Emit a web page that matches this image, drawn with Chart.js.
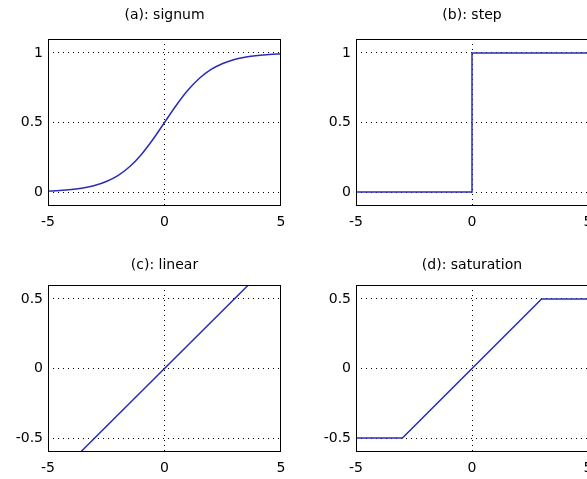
<!DOCTYPE html>
<html>
<head>
<meta charset="utf-8">
<script src="https://cdn.jsdelivr.net/npm/chart.js@4.4.0/dist/chart.umd.min.js"></script>
<style>
html, body { margin:0; padding:0; background:#fff; overflow:hidden; width:587px; height:479px; position:relative; }
canvas { position:absolute; }
#cA { left:0; top:0; }
#cB { left:308px; top:0; }
#cC { left:0; top:246px; }
#cD { left:308px; top:246px; }
</style>
</head>
<body>
<canvas id="cA" width="293" height="240"></canvas>
<canvas id="cB" width="312" height="240"></canvas>
<canvas id="cC" width="293" height="240"></canvas>
<canvas id="cD" width="312" height="240"></canvas>
<script>
// values
var signumX = [-5, -4.5, -4, -3.5, -3, -2.5, -2, -1.5, -1, -0.5, 0, 0.5, 1, 1.5, 2, 2.5, 3, 3.5, 4, 4.5, 5];
var signumY = [0.007, 0.011, 0.018, 0.029, 0.047, 0.076, 0.119, 0.182, 0.269, 0.378, 0.5, 0.622, 0.731, 0.818, 0.881, 0.924, 0.953, 0.971, 0.982, 0.989, 0.993];

var stepX = [-5, 0, 0, 5];
var stepY = [0, 0, 1, 1];

var linearX = [-3.6, 3.6];
var linearY = [-0.6, 0.6];

var satX = [-5, -3, 3, 5];
var satY = [-0.5, -0.5, 0.5, 0.5];

var xTicks = [-5, 0, 5];
var yTicksTop = [0, 0.5, 1];
var yTicksBottom = [-0.5, 0, 0.5];

var lineColor = '#2b2bb5';

Chart.defaults.font.family = 'DejaVu Sans';
Chart.defaults.font.size = 14;
Chart.defaults.color = '#000';

// black box round the plot area
var framePlugin = {
	id: 'frame',
	afterDraw: function(chart) {
		var a = chart.chartArea;
		var ctx = chart.ctx;
		ctx.save();
		ctx.strokeStyle = '#000';
		ctx.lineWidth = 1;
		ctx.strokeRect(a.left + 0.5, a.top + 0.5, a.right - a.left - 1, a.bottom - a.top - 1);
		ctx.restore();
	}
};

// no dotted grid on the box edges (x = -5 and 5)
function xGridColor(ctx) {
	var v = ctx.tick ? ctx.tick.value : 0;
	return (v === -5 || v === 5) ? 'rgba(0,0,0,0)' : '#000';
}

function makePlot(id, title, xs, ys, yMin, yMax, yTicks, rightPad, titlePad, smooth) {
	var pts = [];
	for (var i = 0; i < xs.length; i++) {
		pts.push({x: xs[i], y: ys[i]});
	}
	return new Chart(document.getElementById(id), {
		type: 'scatter',
		data: {
			datasets: [{
				data: pts,
				showLine: true,
				borderColor: lineColor,
				borderWidth: 1.5,
				pointRadius: 0,
				cubicInterpolationMode: smooth ? 'monotone' : 'default'
			}]
		},
		plugins: [framePlugin],
		options: {
			responsive: false,
			animation: false,
			layout: { padding: { right: rightPad, left: 0, top: 0, bottom: 0 } },
			plugins: {
				legend: { display: false },
				tooltip: { enabled: false },
				title: {
					display: true,
					text: title,
					fullSize: false,
					color: '#000',
					font: { size: 14, weight: 'normal' },
					padding: titlePad
				}
			},
			scales: {
				x: {
					type: 'linear',
					min: -5,
					max: 5,
					afterBuildTicks: function(s) { s.ticks = xTicks.map(function(v) { return {value: v}; }); },
					afterFit: function(s) { s.height = 34; s.paddingLeft = 0; s.paddingRight = 0; },
					grid: { color: xGridColor, lineWidth: 1, drawTicks: false },
					border: { display: false, dash: [1, 4] },
					ticks: { padding: 8, maxRotation: 0, callback: function(v) { return String(v); } }
				},
				y: {
					min: yMin,
					max: yMax,
					afterBuildTicks: function(s) { s.ticks = yTicks.map(function(v) { return {value: v}; }); },
					afterFit: function(s) { s.width = 48; s.paddingTop = 0; s.paddingBottom = 0; },
					grid: { color: '#000', lineWidth: 1, drawTicks: false },
					border: { display: false, dash: [1, 4] },
					ticks: { padding: 5, callback: function(v) { return String(v); } }
				}
			}
		}
	});
}

makePlot('cA', '(a): signum', signumX, signumY, -0.1, 1.1, yTicksTop, 12, {top: 7, bottom: 15.2}, true);
makePlot('cB', '(b): step', stepX, stepY, -0.1, 1.1, yTicksTop, 32, {top: 7, bottom: 15.2}, false);
makePlot('cC', '(c): linear', linearX, linearY, -0.6, 0.6, yTicksBottom, 12, {top: 10.6, bottom: 11.6}, false);
makePlot('cD', '(d): saturation', satX, satY, -0.6, 0.6, yTicksBottom, 32, {top: 10.6, bottom: 11.6}, false);
</script>
</body>
</html>
